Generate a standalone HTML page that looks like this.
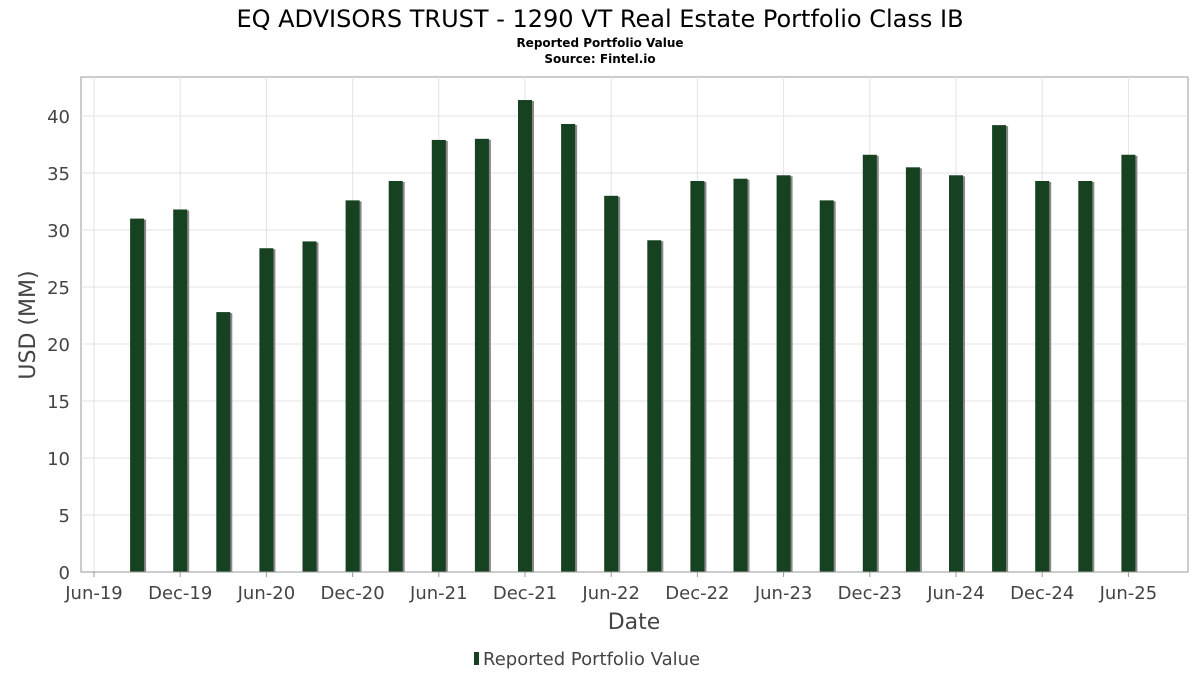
<!DOCTYPE html>
<html><head><meta charset="utf-8"><style>
body{margin:0;background:#fff;}
svg text{font-family:"DejaVu Sans","Liberation Sans",sans-serif;}
</style></head><body>
<svg width="1200" height="675" xmlns="http://www.w3.org/2000/svg">
<text x="600" y="27" text-anchor="middle" font-size="24" fill="#000">EQ ADVISORS TRUST - 1290 VT Real Estate Portfolio Class IB</text>
<text x="600" y="47" text-anchor="middle" font-size="12" font-weight="bold">Reported Portfolio Value</text>
<text x="600" y="63" text-anchor="middle" font-size="12" font-weight="bold">Source: Fintel.io</text>
<rect x="81" y="77" width="1107" height="495" fill="#fff" stroke="#999"/>
<g id="grid"></g><g id="bars"></g><g id="axes"></g>
<text transform="translate(35,325) rotate(-90)" text-anchor="middle" font-size="22" fill="#444">USD (MM)</text>
<text x="634" y="629" text-anchor="middle" font-size="22" fill="#444">Date</text>
<g>
<rect x="474" y="652" width="5" height="13" fill="#174222"/>
<text x="483" y="665" font-size="18" fill="#444">Reported Portfolio Value</text></g>
</svg>
<script>
const quarters=["Sep-19","Dec-19","Mar-20","Jun-20","Sep-20","Dec-20","Mar-21","Jun-21","Sep-21","Dec-21","Mar-22","Jun-22","Sep-22","Dec-22","Mar-23","Jun-23","Sep-23","Dec-23","Mar-24","Jun-24","Sep-24","Dec-24","Mar-25","Jun-25"];
const values=[31.0,31.8,22.8,28.4,29.0,32.6,34.3,37.9,38.0,41.4,39.3,33.0,29.1,34.3,34.5,34.8,32.6,36.6,35.5,34.8,39.2,34.3,34.3,36.6];
const xTicks=["Jun-19","Dec-19","Jun-20","Dec-20","Jun-21","Dec-21","Jun-22","Dec-22","Jun-23","Dec-23","Jun-24","Dec-24","Jun-25"];
const yTicks=[0,5,10,15,20,25,30,35,40];
const NS="http://www.w3.org/2000/svg";
const x=i=>94+43.1*i; // i = quarters since Jun-19
const y=v=>572-v*11.4;
function mk(p,t,a){const e=document.createElementNS(NS,t);for(const k in a)e.setAttribute(k,a[k]);p.appendChild(e);return e;}
const grid=document.getElementById('grid'),bars=document.getElementById('bars'),axes=document.getElementById('axes');
yTicks.forEach(v=>{
 const l=mk(grid,'line',{x1:81,x2:1188,y1:y(v),y2:y(v),stroke:'#e3e3e3'});
 
 
 const t=mk(axes,'text',{x:70,y:y(v)+7,'text-anchor':'end','font-size':18,fill:'#444'});t.textContent=v;
 
 
});
xTicks.forEach((s,k)=>{
 const xx=x(2*k);
 const l=mk(grid,'line',{x1:xx,x2:xx,y1:77,y2:572,stroke:'#e3e3e3'});
 
 
 const tk=mk(axes,'line',{x1:xx,x2:xx,y1:572,y2:577,stroke:'#999'});
 
 
 const t=mk(axes,'text',{x:xx,y:599,'text-anchor':'middle','font-size':18,fill:'#444'});t.textContent=s;
 
 
});
values.forEach((v,i)=>{
 const cx=x(i+1);
 const sh=mk(bars,'rect',{x:cx-4,y:y(v)+1,width:13,height:572-y(v)-1,fill:'#888'});
 
 
 const b=mk(bars,'rect',{x:cx-7,y:y(v),width:14,height:572-y(v),fill:'#174222'});
 
 
});
const ax=mk(axes,'line',{x1:81,x2:1188,y1:572,y2:572,stroke:'#999'});


</script>
</body></html>
